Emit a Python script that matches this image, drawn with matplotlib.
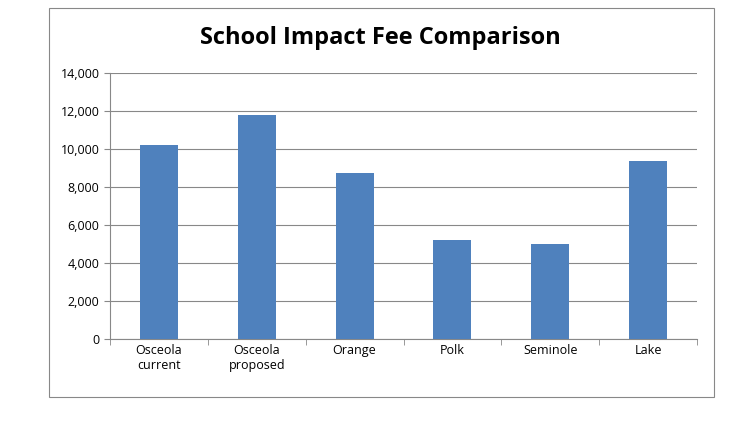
import matplotlib
matplotlib.use("Agg")
import matplotlib.pyplot as plt
from matplotlib.patches import Rectangle

categories = ["Osceola\ncurrent", "Osceola\nproposed", "Orange", "Polk", "Seminole", "Lake"]
values = [10200, 11800, 8750, 5200, 5000, 9350]
yticks = [0, 2000, 4000, 6000, 8000, 10000, 12000, 14000]

plt.rcParams["font.family"] = "Open Sans"
fig = plt.figure(figsize=(7.5, 4.22), dpi=100)
fig.patches.append(Rectangle((49/750, 1-397/422), (714-49)/750, (397-8)/422,
                             transform=fig.transFigure, fill=False, edgecolor="#888888", lw=0.8))
ax = fig.add_axes([110/750, 1-339/422, (697-110)/750, (339-73)/422])
x = range(len(categories))
ax.bar(x, values, width=0.39, color="#4F81BD", zorder=3)
ax.set_xlim(-0.5, len(categories)-0.5)
ax.set_ylim(0, 14000)
ax.set_yticks(yticks)
ax.set_yticklabels([f"{v:,}" for v in yticks], fontsize=9)
ax.set_xticks(list(x))
ax.set_xticklabels(categories, fontsize=9)
ax.grid(axis="y", color="#888888", lw=0.8, zorder=0)
for s in ["top", "right"]:
    ax.spines[s].set_visible(False)
ax.spines["left"].set_color("#888888")
ax.spines["bottom"].set_color("#888888")
ax.tick_params(axis="y", length=4, color="#888888")
ax.tick_params(axis="x", length=4, color="#888888")
ax.set_xticks([i+0.5 for i in range(-1, len(categories))], minor=True)
ax.tick_params(axis="x", which="major", length=0)
ax.tick_params(axis="x", which="minor", length=4, color="#888888")
fig.text(380/750, 1-38/422, "School Impact Fee Comparison", ha="center", va="center",
         fontsize=17, fontweight="bold")
fig.savefig("out.png", dpi=100)
